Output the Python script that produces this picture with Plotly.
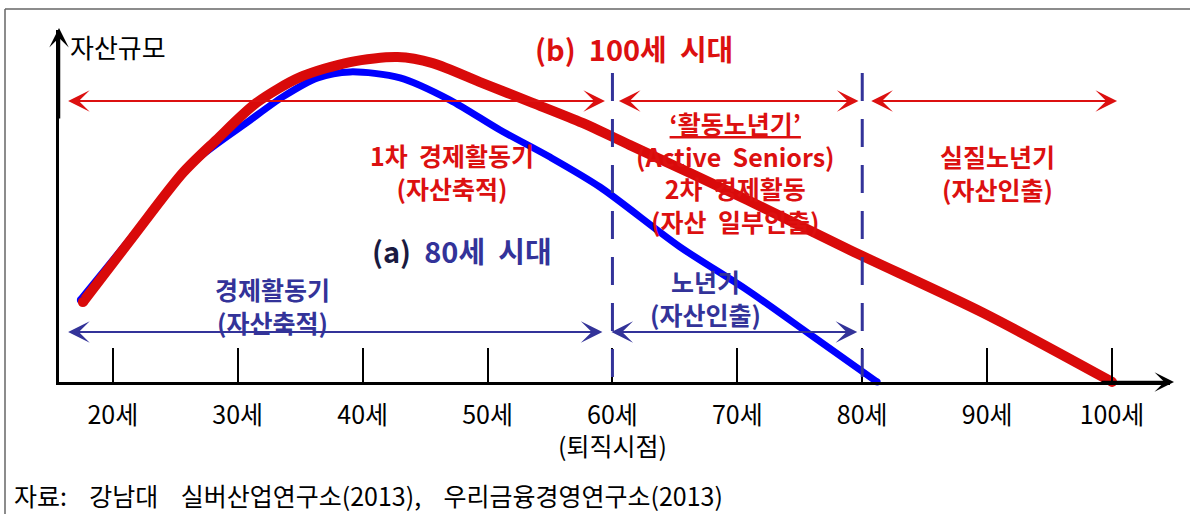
import plotly.graph_objects as go

# ---------------- data ----------------
tick_ages = [20, 30, 40, 50, 60, 70, 80, 90, 100]
tick_labels = ["20세", "30세", "40세", "50세", "60세<br>(퇴직시점)", "70세", "80세", "90세", "100세"]

# (a) 80세 시대 - asset curve
ages_a = [17.4, 21.6, 26.4, 31.0, 33.6, 36.4, 39.0, 43.0, 47.0, 51.0, 55.0, 59.0, 65.4, 70.8, 76.1, 81.2]
asset_a = [23.3, 41.6, 62.2, 74.4, 81.0, 86.4, 88.1, 86.4, 80.1, 71.6, 63.9, 55.4, 38.4, 26.1, 12.8, 0.0]

# (b) 100세 시대 - asset curve
ages_b = [17.6, 21.6, 25.6, 28.3, 31.5, 35.0, 39.0, 42.8, 45.6, 49.6, 53.6, 57.6, 61.4, 70.8, 79.0, 89.7, 100.0]
asset_b = [22.7, 41.2, 59.4, 68.8, 79.3, 86.6, 90.9, 92.3, 90.6, 84.9, 79.3, 73.6, 67.3, 51.7, 37.5, 19.6, 0.0]

# phase boundaries
phase_start = 16
retire_age = 60
life_80 = 80
life_100 = 100

# --------------- styling --------------
FONT = "Noto Sans CJK KR"
RED = "#dc1010"
CURVE_RED = "#d90a0a"
BLUE = "#0000ff"
DBLUE = "#333399"

W, H = 1190, 514
L, R, T, B = 59, 20, 30, 132
PW = W - L - R
PH = H - T - B
X0, X1 = 15.69, 104.64
Y0, Y1 = 0, 100


def ax_x(px):
    return X0 + (px - L) / PW * (X1 - X0)


def ax_y(py):
    return Y0 + (H - B - py) / PH * (Y1 - Y0)


fig = go.Figure()

fig.add_trace(go.Scatter(x=ages_a, y=asset_a, mode="lines",
                         line=dict(color=BLUE, width=7, shape="spline", smoothing=0.8),
                         hoverinfo="skip", showlegend=False))
fig.add_trace(go.Scatter(x=ages_b, y=asset_b, mode="lines",
                         line=dict(color=CURVE_RED, width=10, shape="spline", smoothing=0.8),
                         hoverinfo="skip", showlegend=False))
# round caps at curve ends
fig.add_trace(go.Scatter(x=[ages_a[0], ages_a[-1]], y=[asset_a[0], asset_a[-1]], mode="markers",
                         marker=dict(color=BLUE, size=7), hoverinfo="skip", showlegend=False, cliponaxis=False))
fig.add_trace(go.Scatter(x=[ages_b[0], ages_b[-1]], y=[asset_b[0], asset_b[-1]], mode="markers",
                         marker=dict(color=CURVE_RED, size=10), hoverinfo="skip", showlegend=False, cliponaxis=False))

shapes = []
# dashed phase lines
for a in [retire_age, life_80]:
    shapes.append(dict(type="line", xref="x", yref="y", x0=a, x1=a, y0=ax_y(73), y1=0,
                       line=dict(color=DBLUE, width=3, dash="28px,18px")))
# outer frame
shapes.append(dict(type="line", xref="paper", yref="paper",
                   x0=(5 - L) / PW, x1=1.05, y0=1 + (T - 9) / PH, y1=1 + (T - 9) / PH,
                   line=dict(color="#666666", width=1.5)))
shapes.append(dict(type="line", xref="paper", yref="paper",
                   x0=(5 - L) / PW, x1=(5 - L) / PW, y0=1 + (T - 9) / PH, y1=-0.6,
                   line=dict(color="#666666", width=1.5)))

ann = []


def arrow(xa, xb, y, color, width=2, size=1.8):
    ann.append(dict(x=xb, y=y, ax=xa, ay=y, xref="x", yref="y", axref="x", ayref="y",
                    text="", showarrow=True, arrowhead=3, arrowside="end+start",
                    arrowsize=size, arrowwidth=width, arrowcolor=color))


y_red = ax_y(101)
y_blue = ax_y(332)
arrow(phase_start + 0.3, retire_age - 0.6, y_red, RED)
arrow(retire_age + 0.4, life_80 - 0.3, y_red, RED)
arrow(life_80 + 0.6, life_100 + 0.4, y_red, RED)
arrow(phase_start + 0.3, retire_age - 0.8, y_blue, DBLUE)
arrow(retire_age - 0.2, life_80 - 0.4, y_blue, DBLUE)

# axis arrowheads
ann.append(dict(x=X0, y=ax_y(28), ax=X0, ay=ax_y(120), xref="x", yref="y", axref="x", ayref="y",
                text="", showarrow=True, arrowhead=3, arrowsize=1.3, arrowwidth=2.5, arrowcolor="black"))
ann.append(dict(x=ax_x(1174), y=0, ax=ax_x(1100), ay=0, xref="x", yref="y", axref="x", ayref="y",
                text="", showarrow=True, arrowhead=3, arrowsize=1.3, arrowwidth=2.5, arrowcolor="black"))


def label(px, py, lines, color, size=25, bold=True, xanchor="center"):
    if bold:
        lines = [f"<b>{s}</b>" for s in lines]
    ann.append(dict(x=ax_x(px), y=ax_y(py), xref="x", yref="y", text="<br>".join(lines),
                    showarrow=False, xanchor=xanchor, yanchor="middle", align="center",
                    font=dict(family=FONT, size=size, color=color)))


label(68, 46, ["자산규모"], "black", size=26, bold=False, xanchor="left")
label(634, 48, ["(b)  100세  시대"], RED, size=29)
label(452, 171, ["1차  경제활동기", "(자산축적)"], RED)
label(735, 172, ["<u>‘활동노년기’</u>", "(Active  Seniors)", "2차  경제활동", "(자산  일부인출)"], RED)
label(997, 172, ["실질노년기", "(자산인출)"], RED)
label(462, 250, ["<span style='color:#1a1a40'>(a)</span>  80세  시대"], DBLUE, size=29)
label(272, 305, ["경제활동기", "(자산축적)"], DBLUE)
label(705, 297, ["노년기", "(자산인출)"], DBLUE)
label(902, 439, ["(2013년  기대수명  81세)"], "black", size=25, bold=False)

ann.append(dict(x=(12 - L) / PW, y=-(495 - (H - B)) / PH, xref="paper", yref="paper",
                text="자료:    강남대    실버산업연구소(2013),    우리금융경영연구소(2013)",
                showarrow=False, xanchor="left", yanchor="middle",
                font=dict(family=FONT, size=25, color="black")))

fig.update_layout(
    width=W, height=H,
    margin=dict(l=L, r=R, t=T, b=B, pad=0),
    paper_bgcolor="white", plot_bgcolor="white",
    showlegend=False,
    shapes=shapes, annotations=ann,
    xaxis=dict(range=[X0, X1], showgrid=False, zeroline=False,
               showline=True, linecolor="black", linewidth=2.5,
               tickmode="array", tickvals=tick_ages, ticktext=tick_labels,
               ticks="inside", ticklen=34, tickwidth=2, tickcolor="black",
               ticklabelstandoff=9,
               tickfont=dict(family=FONT, size=25, color="black")),
    yaxis=dict(range=[Y0, Y1], showgrid=False, zeroline=False,
               showline=True, linecolor="black", linewidth=2.5,
               showticklabels=False, ticks=""),
)

fig.write_html("out.html", config={"displayModeBar": False},
               post_script="document.body.style.margin='0';document.body.style.overflow='hidden';")
